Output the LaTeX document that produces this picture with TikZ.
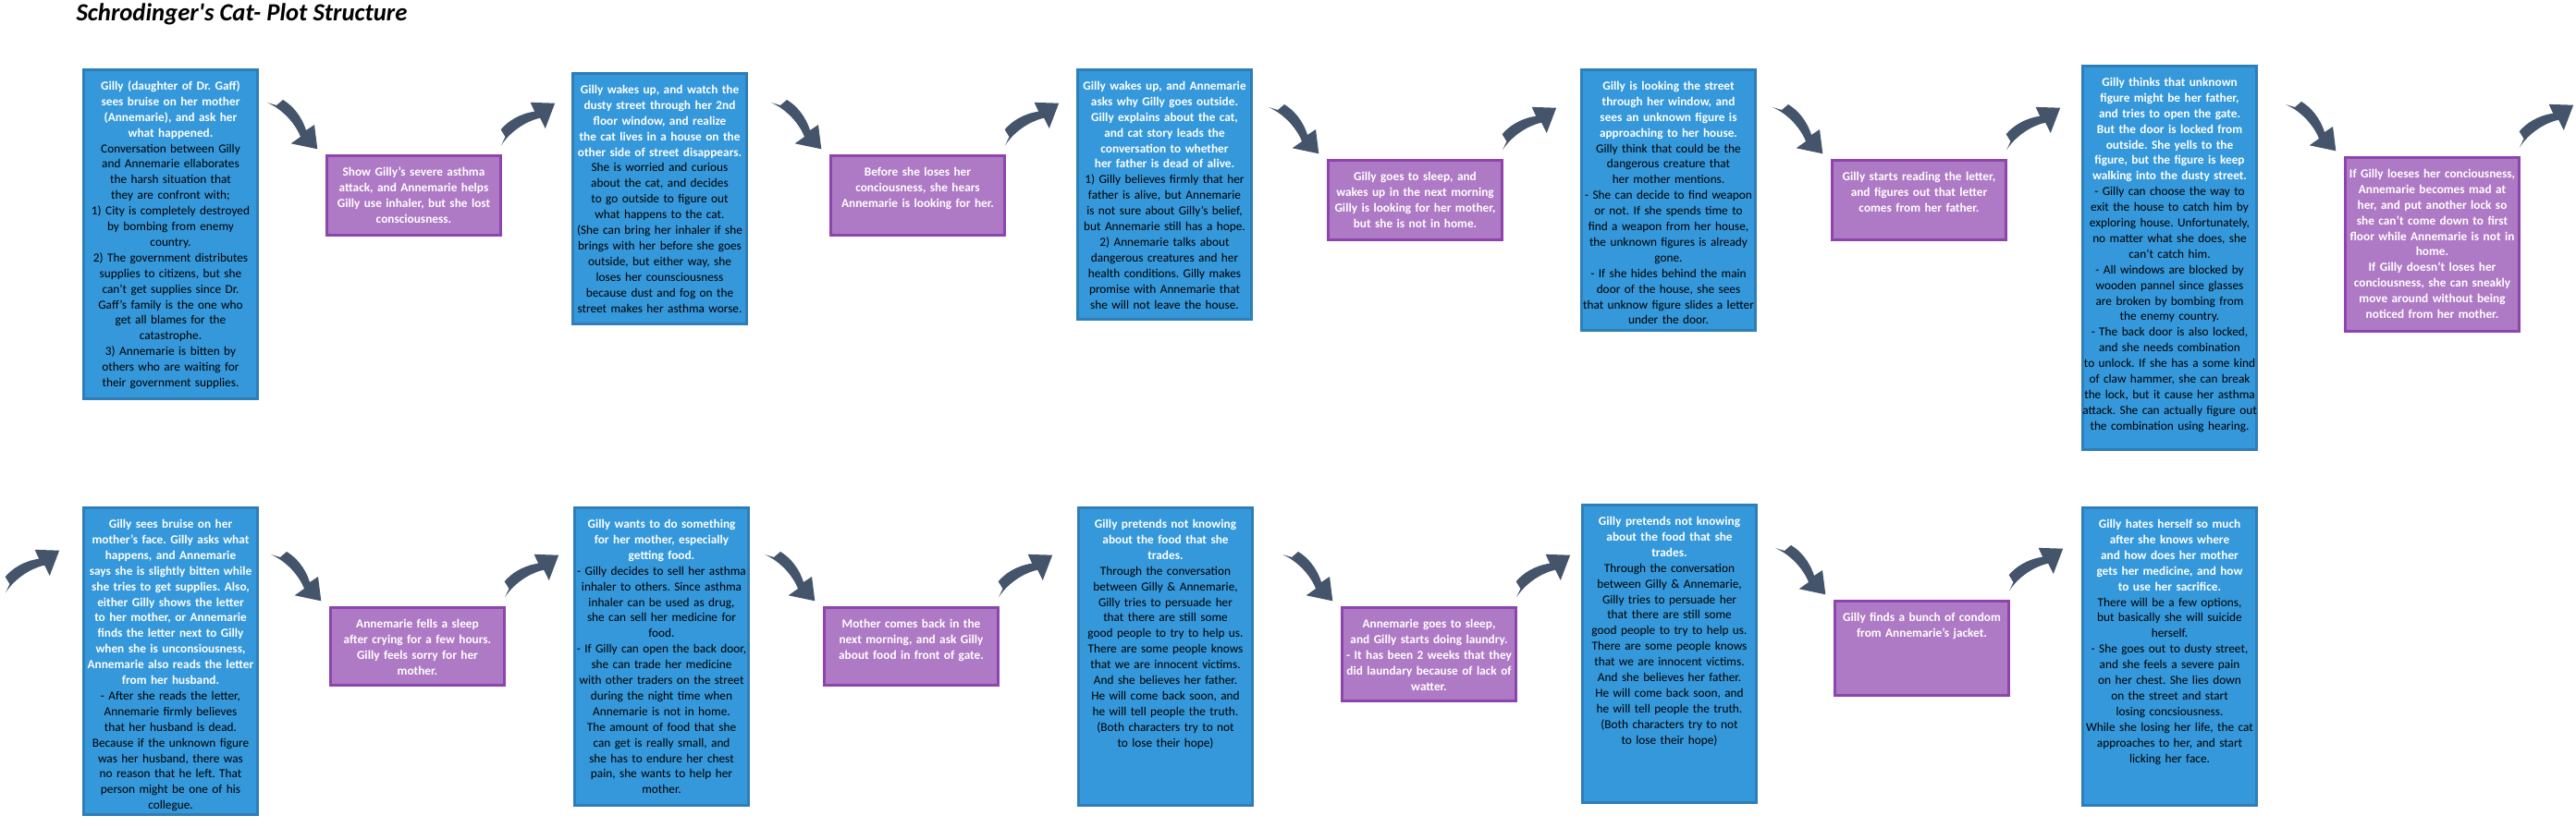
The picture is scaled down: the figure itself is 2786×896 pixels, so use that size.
\documentclass[tikz,border=0pt]{standalone}
\usepackage{fontspec}
\setmainfont{Carlito}
\usetikzlibrary{calc}
\frenchspacing
\definecolor{boxblue}{HTML}{3498DB}
\definecolor{boxblueline}{HTML}{2E7EB8}
\definecolor{boxpurple}{HTML}{AF7AC5}
\definecolor{boxpurpleline}{HTML}{8E44AD}
\definecolor{arrowslate}{HTML}{44546A}
\newcommand{\hd}[1]{{\bfseries\color{white}#1}}
\tikzset{
  plotbox/.style={draw, line width=3pt, anchor=north west, text width=260pt, inner xsep=-36pt, inner ysep=12pt, align=center, text height=10pt, font=\fontsize{13.3}{16.9}\selectfont},
  bluebox/.style={plotbox, fill=boxblue, draw=boxblueline, text depth=#1},
  purplebox/.style={plotbox, fill=boxpurple, draw=boxpurpleline, text=white, font=\fontsize{13.3}{16.9}\selectfont\bfseries, text depth=#1},
  swoosh/.pic={\fill[arrowslate] (17,0) .. controls (27,-6) and (37,-17) .. (42,-33) -- (51,-27) -- (54.3,-53.3) -- (25.7,-47.3) -- (36,-40) .. controls (31,-27) and (18,-11) .. (0,-3) -- (10,-6) -- cycle;}
}
\begin{document}
\begin{tikzpicture}[x=1pt, y=1pt]
\useasboundingbox (0,0) rectangle (2786,-896);
\node[anchor=base west, font=\fontsize{26.7}{32}\selectfont\bfseries\itshape] (title) at (79,-23) {Schrodinger\textquotesingle s Cat- Plot Structure};

\node[bluebox=322pt] (t1) at (89,-74) {\hd{Gilly (daughter of Dr. Gaff)\\sees bruise on her mother\\(Annemarie), and ask her\\what happened.}\\Conversation between Gilly\\and Annemarie ellaborates\\the harsh situation that\\they are confront with;\\1) City is completely destroyed\\by bombing from enemy\\country.\\2) The government distributes\\supplies to citizens, but she\\can’t get supplies since Dr.\\Gaff’s family is the one who\\get all blames for the\\catastrophe.\\3) Annemarie is bitten by\\others who are waiting for\\their government supplies.};
\node[purplebox=52pt] (t2) at (352,-167) {Show Gilly’s severe asthma\\attack, and Annemarie helps\\Gilly use inhaler, but she lost\\consciousness.};
\node[bluebox=237pt] (t3) at (618,-78) {\hd{Gilly wakes up, and watch the\\dusty street through her 2nd\\floor window, and realize\\the cat lives in a house on the\\other side of street disappears.}\\She is worried and curious\\about the cat, and decides\\to go outside to figure out\\what happens to the cat.\\(She can bring her inhaler if she\\brings with her before she goes\\outside, but either way, she\\loses her counsciousness\\because dust and fog on the\\street makes her asthma worse.};
\node[purplebox=52pt] (t4) at (897,-167) {Before she loses her\\conciousness, she hears\\Annemarie is looking for her.};
\node[bluebox=236pt] (t5) at (1164,-74) {\hd{Gilly wakes up, and Annemarie\\asks why Gilly goes outside.\\Gilly explains about the cat,\\and cat story leads the\\conversation to whether\\her father is dead of alive.}\\1) Gilly believes firmly that her\\father is alive, but Annemarie\\is not sure about Gilly’s belief,\\but Annemarie still has a hope.\\2) Annemarie talks about\\dangerous creatures and her\\health conditions. Gilly makes\\promise with Annemarie that\\she will not leave the house.};
\node[purplebox=52pt] (t6) at (1435,-172) {Gilly goes to sleep, and\\wakes up in the next morning\\Gilly is looking for her mother,\\but she is not in home.};
\node[bluebox=248pt] (t7) at (1709,-74) {\hd{Gilly is looking the street\\through her window, and\\sees an unknown figure is\\approaching to her house.}\\Gilly think that could be the\\dangerous creature that\\her mother mentions.\\- She can decide to find weapon\\or not. If she spends time to\\find a weapon from her house,\\the unknown figures is already\\gone.\\- If she hides behind the main\\door of the house, she sees\\that unknow figure slides a letter\\under the door.};
\node[purplebox=52pt] (t8) at (1980,-172) {Gilly starts reading the letter,\\and figures out that letter\\comes from her father.};
\node[bluebox=381pt] (t9) at (2251,-70) {\hd{Gilly thinks that unknown\\figure might be her father,\\and tries to open the gate.\\But the door is locked from\\outside. She yells to the\\figure, but the figure is keep\\walking into the dusty street.}\\- Gilly can choose the way to\\exit the house to catch him by\\exploring house. Unfortunately,\\no matter what she does, she\\can’t catch him.\\- All windows are blocked by\\wooden pannel since glasses\\are broken by bombing from\\the enemy country.\\- The back door is also locked,\\and she needs combination\\to unlock. If she has a some kind\\of claw hammer, she can break\\the lock, but it cause her asthma\\attack. She can actually figure out\\the combination using hearing.};
\node[purplebox=154pt] (t10) at (2535,-169) {If Gilly loeses her conciousness,\\Annemarie becomes mad at\\her, and put another lock so\\she can’t come down to first\\floor while Annemarie is not in\\home.\\If Gilly doesn’t loses her\\conciousness, she can sneakly\\move around without being\\noticed from her mother.};

\node[bluebox=298pt] (b1) at (89,-548) {\hd{Gilly sees bruise on her\\mother’s face. Gilly asks what\\happens, and Annemarie\\says she is slightly bitten while\\she tries to get supplies. Also,\\either Gilly shows the letter\\to her mother, or Annemarie\\finds the letter next to Gilly\\when she is unconsiousness,\\Annemarie also reads the letter\\from her husband.}\\- After she reads the letter,\\Annemarie firmly believes\\that her husband is dead.\\Because if the unknown figure\\was her husband, there was\\no reason that he left. That\\person might be one of his\\collegue.};
\node[purplebox=50pt] (b2) at (356,-656) {Annemarie fells a sleep\\after crying for a few hours.\\Gilly feels sorry for her\\mother.};
\node[bluebox=288pt] (b3) at (620,-548) {\hd{Gilly wants to do something\\for her mother, especially\\getting food.}\\- Gilly decides to sell her asthma\\inhaler to others. Since asthma\\inhaler can be used as drug,\\she can sell her medicine for\\food.\\- If Gilly can open the back door,\\she can trade her medicine\\with other traders on the street\\during the night time when\\Annemarie is not in home.\\The amount of food that she\\can get is really small, and\\she has to endure her chest\\pain, she wants to help her\\mother.};
\node[purplebox=50pt] (b4) at (890,-656) {Mother comes back in the\\next morning, and ask Gilly\\about food in front of gate.};
\node[bluebox=288pt] (b5) at (1165,-548) {\hd{Gilly pretends not knowing\\about the food that she\\trades.}\\Through the conversation\\between Gilly \& Annemarie,\\Gilly tries to persuade her\\that there are still some\\good people to try to help us.\\There are some people knows\\that we are innocent victims.\\And she believes her father.\\He will come back soon, and\\he will tell people the truth.\\(Both characters try to not\\to lose their hope)};
\node[purplebox=67pt] (b6) at (1450,-656) {Annemarie goes to sleep,\\and Gilly starts doing laundry.\\- It has been 2 weeks that they\\did laundary because of lack of\\watter.};
\node[bluebox=288pt] (b7) at (1710,-545) {\hd{Gilly pretends not knowing\\about the food that she\\trades.}\\Through the conversation\\between Gilly \& Annemarie,\\Gilly tries to persuade her\\that there are still some\\good people to try to help us.\\There are some people knows\\that we are innocent victims.\\And she believes her father.\\He will come back soon, and\\he will tell people the truth.\\(Both characters try to not\\to lose their hope)};
\node[purplebox=68pt] (b8) at (1983,-649) {Gilly finds a bunch of condom\\from Annemarie’s jacket.};
\node[bluebox=288pt] (b9) at (2251,-548) {\hd{Gilly hates herself so much\\after she knows where\\and how does her mother\\gets her medicine, and how\\to use her sacrifice.}\\There will be a few options,\\but basically she will suicide\\herself.\\- She goes out to dusty street,\\and she feels a severe pain\\on her chest. She lies down\\on the street and start\\losing concsiousness.\\While she losing her life, the cat\\approaches to her, and start\\licking her face.};

\path pic at ($(t2.north west)+(-63,59)$) {swoosh}
      pic[rotate=81] at ($(t2.north east)+(-4,10)$) {swoosh}
      pic at ($(t4.north west)+(-63,59)$) {swoosh}
      pic[rotate=81] at ($(t4.north east)+(-4,10)$) {swoosh}
      pic at ($(t6.north west)+(-63,59)$) {swoosh}
      pic[rotate=81] at ($(t6.north east)+(-4,10)$) {swoosh}
      pic at ($(t8.north west)+(-63,59)$) {swoosh}
      pic[rotate=81] at ($(t8.north east)+(-4,10)$) {swoosh}
      pic at ($(t10.north west)+(-63,59)$) {swoosh}
      pic[rotate=81] at ($(t10.north east)+(-4,10)$) {swoosh};
\path pic[rotate=81] at ($(b1.north west)+(-86,-93)$) {swoosh}
      pic at ($(b2.north west)+(-63,59)$) {swoosh}
      pic[rotate=81] at ($(b2.north east)+(-4,10)$) {swoosh}
      pic at ($(b4.north west)+(-63,59)$) {swoosh}
      pic[rotate=81] at ($(b4.north east)+(-4,10)$) {swoosh}
      pic at ($(b6.north west)+(-63,59)$) {swoosh}
      pic[rotate=81] at ($(b6.north east)+(-4,10)$) {swoosh}
      pic at ($(b8.north west)+(-63,59)$) {swoosh}
      pic[rotate=81] at ($(b8.north east)+(-4,10)$) {swoosh};
\end{tikzpicture}
\end{document}
